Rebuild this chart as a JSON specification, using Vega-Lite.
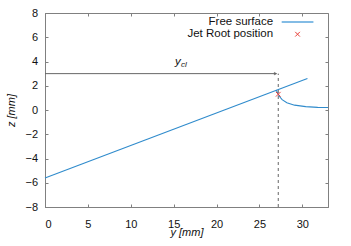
{
  "$schema": "https://vega.github.io/schema/vega-lite/v6.json",
  "width": 283,
  "height": 194,
  "autosize": {"type": "none"},
  "padding": {"left": 45, "top": 13, "right": 23, "bottom": 39},
  "background": "white",
  "config": {
    "view": {"stroke": "#808080", "strokeWidth": 1},
    "font": "Liberation Sans",
    "axis": {"grid": false, "domainColor": "#808080", "tickColor": "#808080", "labelColor": "#111", "labelFontSize": 11, "titleFontSize": 11, "titleFontWeight": "normal", "titleFontStyle": "italic", "titleColor": "#111"}
  },
  "datasets": {
    "surface": [
      {"y": 0, "z": -5.6, "seg": "a", "i": 0},
      {"y": 30.6, "z": 2.6, "seg": "a", "i": 1},
      {"y": 26.95, "z": 1.65, "seg": "b", "i": 0},
      {"y": 27.1, "z": 1.45, "seg": "b", "i": 1},
      {"y": 27.3, "z": 1.15, "seg": "b", "i": 2},
      {"y": 27.65, "z": 0.85, "seg": "b", "i": 3},
      {"y": 28.2, "z": 0.6, "seg": "b", "i": 4},
      {"y": 29.1, "z": 0.4, "seg": "b", "i": 5},
      {"y": 30.4, "z": 0.28, "seg": "b", "i": 6},
      {"y": 31.8, "z": 0.22, "seg": "b", "i": 7},
      {"y": 33, "z": 0.2, "seg": "b", "i": 8}
    ],
    "jetroot": [{"y": 27.2, "z": 1.3}],
    "guide": [{"y": 27.2, "z0": -8, "z1": 3.0, "x0": 0, "xa": 27.0}],
    "legtext": [
      {"y": 26.6, "z": 7.25, "t": "Free surface"},
      {"y": 26.6, "z": 6.25, "t": "Jet Root position"}
    ],
    "legline": [{"y0": 27.6, "y1": 31.3, "z": 7.25}],
    "legmark": [{"y": 29.45, "z": 6.25}],
    "ycl": [{"y": 15.5, "z": 3.95}]
  },
  "layer": [
    {
      "data": {"name": "surface"},
      "mark": {"type": "line", "color": "#2f8bcc", "strokeWidth": 1.1},
      "encoding": {
        "x": {"field": "y", "type": "quantitative", "scale": {"domain": [0, 33], "nice": false, "zero": false}, "axis": {"values": [0, 5, 10, 15, 20, 25, 30], "title": "y [mm]", "ticks": false, "labelPadding": 11, "titleBaseline": "middle", "titleY": 25.5}},
        "y": {"field": "z", "type": "quantitative", "scale": {"domain": [-8, 8], "nice": false}, "axis": {"values": [-8, -6, -4, -2, 0, 2, 4, 6, 8], "title": "z [mm]", "ticks": false, "labelPadding": 7.5, "titlePadding": 8}},
        "detail": {"field": "seg"},
        "order": {"field": "i"}
      }
    },
    {
      "data": {"name": "guide"},
      "mark": {"type": "rule", "color": "#666", "strokeDash": [3, 3], "strokeWidth": 1},
      "encoding": {
        "x": {"field": "y", "type": "quantitative", "axis": {"orient": "top", "values": [0, 5, 10, 15, 20, 25, 30], "labels": false, "title": null, "tickSize": -3, "domain": false}},
        "y": {"field": "z0", "type": "quantitative", "axis": {"orient": "right", "values": [-8, -6, -4, -2, 0, 2, 4, 6, 8], "labels": false, "title": null, "tickSize": -3, "domain": false}},
        "y2": {"field": "z1"}
      }
    },
    {
      "data": {"name": "guide"},
      "mark": {"type": "rule", "color": "#666", "strokeWidth": 1},
      "encoding": {
        "x": {"field": "x0", "type": "quantitative", "axis": {"orient": "bottom", "values": [0, 5, 10, 15, 20, 25, 30], "labels": false, "title": null, "tickSize": -3, "domain": false}},
        "x2": {"field": "xa"},
        "y": {"field": "z1", "type": "quantitative", "axis": {"orient": "left", "values": [-8, -6, -4, -2, 0, 2, 4, 6, 8], "labels": false, "title": null, "tickSize": -3, "domain": false}}
      }
    },
    {
      "data": {"name": "guide"},
      "mark": {"type": "point", "shape": "M-1,-0.6L0,0L-1,0.6Z", "filled": true, "fill": "#666", "stroke": "#666", "strokeWidth": 0.5, "size": 20, "opacity": 1},
      "encoding": {
        "x": {"field": "xa", "type": "quantitative", "axis": null},
        "y": {"field": "z1", "type": "quantitative", "axis": null}
      }
    },
    {
      "data": {"name": "jetroot"},
      "mark": {"type": "point", "shape": "M-1,-1L1,1M-1,1L1,-1", "filled": false, "stroke": "#e8413a", "strokeWidth": 1, "size": 22, "opacity": 1},
      "encoding": {
        "x": {"field": "y", "type": "quantitative", "axis": null},
        "y": {"field": "z", "type": "quantitative", "axis": null}
      }
    },
    {
      "data": {"name": "legtext"},
      "mark": {"type": "text", "align": "right", "baseline": "middle", "fontSize": 11.5, "color": "#111"},
      "encoding": {
        "x": {"field": "y", "type": "quantitative", "axis": null},
        "y": {"field": "z", "type": "quantitative", "axis": null},
        "text": {"field": "t"}
      }
    },
    {
      "data": {"name": "legline"},
      "mark": {"type": "rule", "color": "#5aa6dc", "strokeWidth": 1.5},
      "encoding": {
        "x": {"field": "y0", "type": "quantitative", "axis": null},
        "x2": {"field": "y1"},
        "y": {"field": "z", "type": "quantitative", "axis": null}
      }
    },
    {
      "data": {"name": "legmark"},
      "mark": {"type": "point", "shape": "M-1,-1L1,1M-1,1L1,-1", "filled": false, "stroke": "#e8413a", "strokeWidth": 1, "size": 22, "opacity": 1},
      "encoding": {
        "x": {"field": "y", "type": "quantitative", "axis": null},
        "y": {"field": "z", "type": "quantitative", "axis": null}
      }
    },
    {
      "data": {"name": "ycl"},
      "mark": {"type": "text", "text": "y", "fontStyle": "italic", "fontSize": 11.5, "align": "center", "baseline": "middle", "color": "#111"},
      "encoding": {
        "x": {"field": "y", "type": "quantitative", "axis": null},
        "y": {"field": "z", "type": "quantitative", "axis": null}
      }
    },
    {
      "data": {"name": "ycl"},
      "mark": {"type": "text", "text": "cl", "fontStyle": "italic", "fontSize": 8, "align": "left", "baseline": "middle", "dx": 3, "dy": 3, "color": "#111"},
      "encoding": {
        "x": {"field": "y", "type": "quantitative", "axis": null},
        "y": {"field": "z", "type": "quantitative", "axis": null}
      }
    }
  ],
  "resolve": {"axis": {"x": "independent", "y": "independent"}}
}
